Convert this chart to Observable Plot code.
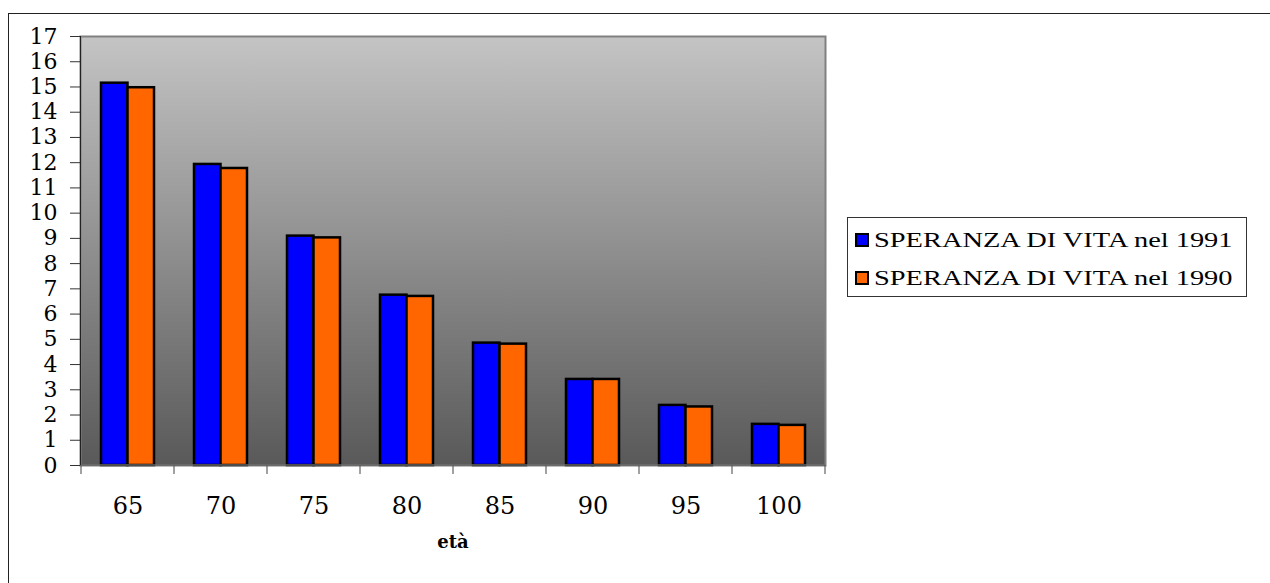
<!DOCTYPE html>
<html><head><meta charset="utf-8">
<script src="https://cdn.jsdelivr.net/npm/d3@7"></script>
<script src="https://cdn.jsdelivr.net/npm/@observablehq/plot@0.6"></script>
<style>
body{margin:0;background:#fff;width:1270px;height:583px;overflow:hidden;position:relative;font-family:"Liberation Serif",serif}
#frame{position:absolute;left:8px;top:13px;width:1400px;height:700px;border:1.5px solid #222;}
#chart{position:absolute;left:0;top:0}
#legend{position:absolute;left:847px;top:217px;width:400px;height:80px;border:1px solid #333;background:#fff;box-sizing:border-box}
.item{position:absolute;left:7px;height:22px;display:flex;align-items:center}
.sw{width:10px;height:10px;border:2px solid #000;flex:none}
.lab{font-size:20px;transform:scaleX(1.42);transform-origin:left center;margin-left:5px;white-space:nowrap;color:#000}
</style></head>
<body>
<div id="frame"></div>
<svg width="0" height="0" style="position:absolute"><defs><linearGradient id="bg" x1="0" y1="0" x2="0" y2="1"><stop offset="0" stop-color="#c4c4c4"/><stop offset="1" stop-color="#595959"/></linearGradient></defs></svg>
<div id="chart"></div>
<div id="legend"></div>
<script>
const ages = ["65", "70", "75", "80", "85", "90", "95", "100"];
const seriesNames = ["SPERANZA DI VITA nel 1991", "SPERANZA DI VITA nel 1990"];
const speranza1991 = [15.15, 11.93, 9.09, 6.75, 4.85, 3.41, 2.38, 1.63];
const speranza1990 = [14.97, 11.77, 9.02, 6.70, 4.81, 3.41, 2.32, 1.59];
const seriesColors = ["#0000ff", "#ff6600"];
const yTicks = [0, 1, 2, 3, 4, 5, 6, 7, 8, 9, 10, 11, 12, 13, 14, 15, 16, 17];
const xLabel = "età";

const rows = ages.map((a, i) => ({age: a, v1991: speranza1991[i], v1990: speranza1990[i]}));

const boundaryTicks = (index, scales, values, dims) => {
  const x = scales.x, y = scales.y;
  const bw = x.bandwidth ? x.bandwidth() : (x(ages[1]) - x(ages[0]));
  const bounds = ages.map(a => x(a)).concat([x(ages[ages.length - 1]) + bw]);
  const y0 = y(0);
  const g = d3.create("svg:g");
  g.selectAll("line.t").data(bounds).join("line")
    .attr("x1", d => d).attr("x2", d => d)
    .attr("y1", y0).attr("y2", y0 + 9)
    .attr("stroke", "#444").attr("stroke-width", 1);
  g.append("line")
    .attr("x1", bounds[0] - 0.5).attr("x2", bounds[0] - 0.5)
    .attr("y1", y(yTicks[yTicks.length - 1])).attr("y2", y0)
    .attr("stroke", "#222").attr("stroke-width", 1);
  g.append("line")
    .attr("x1", bounds[0]).attr("x2", bounds[bounds.length - 1])
    .attr("y1", y0).attr("y2", y0)
    .attr("stroke", "#666").attr("stroke-width", 1.5);
  return g.node();
};

const plot = Plot.plot({
  width: 1270, height: 583,
  marginLeft: 80, marginRight: 445, marginTop: 36, marginBottom: 118,
  style: {background: "transparent", fontFamily: "DejaVu Serif", color: "#000", overflow: "visible"},
  x: {domain: ages, padding: 0, label: null},
  y: {domain: [0, 17], label: null},
  marks: [
    Plot.frame({fill: "url(#bg)", stroke: "#808080", strokeWidth: 2}),
    Plot.barY(rows, {x: "age", y: "v1991", fill: seriesColors[0], stroke: "#000", strokeWidth: 2.5, insetLeft: 20, insetRight: 46.5}),
    Plot.barY(rows, {x: "age", y: "v1990", fill: seriesColors[1], stroke: "#000", strokeWidth: 2.5, insetLeft: 46.5, insetRight: 20}),
    boundaryTicks,
    Plot.axisY({ticks: yTicks, tickSize: 10, tickPadding: 13, fontSize: 22, tickFormat: d => String(d), stroke: "#333", label: null}),
    Plot.axisX({tickSize: 0, tickPadding: 31, fontSize: 24, label: null}),
    Plot.text([xLabel], {frameAnchor: "bottom", dy: 82, fontWeight: "bold", fontSize: 18, fontFamily: "DejaVu Serif"})
  ]
});
document.getElementById("chart").appendChild(plot);

const legend = document.getElementById("legend");
seriesNames.forEach((name, i) => {
  const item = document.createElement("div");
  item.className = "item";
  item.style.top = (11 + i * 38) + "px";
  const sw = document.createElement("div");
  sw.className = "sw";
  sw.style.background = seriesColors[i];
  const lab = document.createElement("span");
  lab.className = "lab";
  lab.textContent = name;
  item.appendChild(sw);
  item.appendChild(lab);
  legend.appendChild(item);
});
</script>
</body></html>
